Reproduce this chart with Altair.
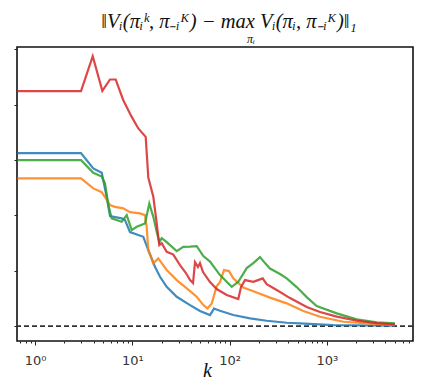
import altair as alt
import pandas as pd

# iteration index k (x) and value (y) for each run
k_blue = [0.66, 2.97, 3.97, 4.85, 5.45, 5.90, 7.78, 8.41, 9.47, 12.97, 14.6, 17.1, 19.26, 22.57, 28.6, 39.2, 49.6, 62.9, 69.1, 79.6, 109.1, 162.2, 240.4, 386, 529, 1156, 5010]
v_blue = [3.123, 3.123, 2.847, 2.767, 2.334, 1.986, 1.944, 1.913, 1.697, 1.612, 1.372, 1.070, 0.890, 0.709, 0.529, 0.379, 0.271, 0.199, 0.316, 0.276, 0.199, 0.139, 0.096, 0.060, 0.049, 0.018, 0.005]

k_orange = [0.66, 2.97, 3.97, 4.85, 5.37, 5.90, 6.64, 8.08, 9.47, 12.0, 13.5, 14.06, 14.6, 15.2, 16.44, 18.5, 20.05, 22.57, 28.6, 36.3, 45.9, 53.7, 59.3, 65.5, 73.7, 79.6, 87.6, 98.6, 109.1, 138.3, 189.9, 260, 386, 572, 849, 1475, 2566, 5010]
v_orange = [2.666, 2.666, 2.486, 2.419, 2.301, 2.184, 2.153, 2.125, 2.058, 2.034, 2.004, 1.787, 1.372, 1.300, 1.132, 1.222, 1.137, 1.011, 0.830, 0.681, 0.529, 0.379, 0.319, 0.410, 0.722, 0.794, 1.011, 0.993, 0.861, 0.695, 0.605, 0.514, 0.410, 0.271, 0.168, 0.078, 0.049, 0.018]

k_green = [0.66, 2.97, 3.97, 4.85, 5.24, 5.67, 6.14, 7.78, 8.76, 9.86, 11.1, 13.5, 14.95, 16.44, 17.81, 18.95, 20.05, 22.57, 28.6, 33.4, 39.2, 45.9, 53.7, 62.9, 79.6, 105.1, 122.8, 149.9, 175.3, 205.3, 231, 260, 329.6, 386, 489, 620, 785, 1262, 2025, 3250, 5010]
v_green = [2.996, 2.996, 2.767, 2.699, 2.576, 2.184, 1.944, 1.883, 2.004, 1.733, 1.792, 1.854, 2.211, 1.973, 1.702, 1.516, 1.588, 1.516, 1.354, 1.431, 1.435, 1.444, 1.264, 1.164, 0.921, 0.709, 0.800, 1.047, 1.137, 1.245, 1.137, 1.038, 0.939, 0.861, 0.704, 0.523, 0.361, 0.229, 0.121, 0.067, 0.049]

k_red = [0.66, 2.97, 3.92, 4.92, 5.90, 6.75, 8.08, 9.86, 11.53, 13.73, 14.6, 16.44, 17.81, 18.5, 18.95, 20.05, 22.57, 26.4, 30.9, 35.6, 39.2, 42.1, 44.1, 47.3, 49.6, 53.3, 62.9, 73.7, 93.4, 122.8, 130.9, 143.9, 175.3, 195.9, 218.8, 240.4, 304.8, 418, 620, 849, 1262, 2025, 3250, 5010]
v_red = [4.242, 4.242, 4.874, 4.247, 4.453, 4.453, 4.079, 3.778, 3.569, 3.417, 2.681, 2.334, 1.859, 1.606, 1.462, 1.498, 1.341, 1.291, 1.101, 0.957, 0.830, 0.776, 1.155, 1.065, 1.137, 0.975, 0.794, 0.668, 0.560, 0.487, 0.704, 0.830, 0.800, 0.830, 0.861, 0.758, 0.650, 0.505, 0.343, 0.253, 0.171, 0.099, 0.054, 0.031]

series_names = ["run 1", "run 2", "run 3", "run 4"]
series_colors = ["#1f77b4", "#ff7f0e", "#2ca02c", "#d62728"]

y_ticks = [0, 1, 2, 3, 4, 5]
x_ticks = [0.7, 0.8, 0.9] + [m * 10 ** e for e in range(0, 4) for m in range(1, 10) if m * 10 ** e <= 7000]
x_labels = {1: "10⁰", 10: "10¹", 100: "10²", 1000: "10³"}

title_text = "‖Vᵢ(πᵢᵏ, π₋ᵢᴷ) − max Vᵢ(πᵢ, π₋ᵢᴷ)‖₁"
title_under_max = "πᵢ"

rows = []
for name, ks, vs in zip(series_names, [k_blue, k_orange, k_green, k_red], [v_blue, v_orange, v_green, v_red]):
    for i, (k, v) in enumerate(zip(ks, vs)):
        rows.append({"series": name, "k": k, "v": v, "i": i})
df = pd.DataFrame(rows)

label_expr = " : ".join(
    [f"datum.value == {int(val)} ? '{txt}'" for val, txt in x_labels.items()]
) + " : ''"
major_test = "datum.value == 1 || datum.value == 10 || datum.value == 100 || datum.value == 1000"

x_enc = alt.X(
    "k:Q",
    scale=alt.Scale(type="log", domain=[0.653, 7670], nice=False),
    axis=alt.Axis(
        values=x_ticks,
        labelExpr=label_expr,
        title="k",
        titleFont="Liberation Serif",
        titleFontStyle="italic",
        titleFontWeight="normal",
        titleFontSize=20,
        titleColor="#111",
        titleX=190,
        titleY=35,
        titleBaseline="alphabetic",
        labelFont="DejaVu Sans",
        labelFontSize=13,
        labelColor="#333",
        labelPadding=9,
        tickColor="#222",
        tickSize={"condition": {"test": major_test, "value": 4}, "value": 2},
        tickWidth=1,
        domain=False,
        grid=False,
        labelFlush=False,
        labelOverlap=False,
    ),
)
y_enc = alt.Y(
    "v:Q",
    scale=alt.Scale(domain=[-0.27, 5.04], nice=False, zero=False),
    axis=alt.Axis(
        values=y_ticks,
        labels=False,
        title=None,
        tickColor="#222",
        tickSize=3,
        tickWidth=1,
        domain=False,
        grid=False,
    ),
)

lines = alt.Chart(df).mark_line(strokeWidth=2.2, opacity=0.85).encode(
    x=x_enc,
    y=y_enc,
    color=alt.Color("series:N", scale=alt.Scale(domain=series_names, range=series_colors), legend=None),
    order=alt.Order("i:Q"),
)

zero_line = alt.Chart(pd.DataFrame({"z": [0]})).mark_rule(
    color="#333", strokeDash=[5, 3], strokeWidth=1.8
).encode(y=alt.Y("z:Q", scale=alt.Scale(domain=[-0.27, 5.04], nice=False, zero=False)))

title_mark = alt.Chart(pd.DataFrame({"t": [title_text]})).mark_text(
    font="Liberation Serif", fontSize=20.5, fontStyle="italic", color="#111",
    align="center", baseline="alphabetic"
).encode(text="t:N", x=alt.value(212), y=alt.value(-19))

sub_max = alt.Chart(pd.DataFrame({"t": [title_under_max]})).mark_text(
    font="Liberation Serif", fontSize=12, fontStyle="italic", color="#111",
    align="center", baseline="middle"
).encode(text="t:N", x=alt.value(234), y=alt.value(-8))

chart = alt.layer(zero_line, lines, title_mark, sub_max).properties(
    width=396,
    height=294,
    autosize=alt.AutoSizeParams(type="none"),
    padding={"left": 9, "top": 39, "right": 2, "bottom": 40},
).configure(
    background="white",
    view=alt.ViewConfig(stroke="#111", strokeWidth=1.6),
)

chart.save("out.html", embed_options={"renderer": "svg", "actions": False})
